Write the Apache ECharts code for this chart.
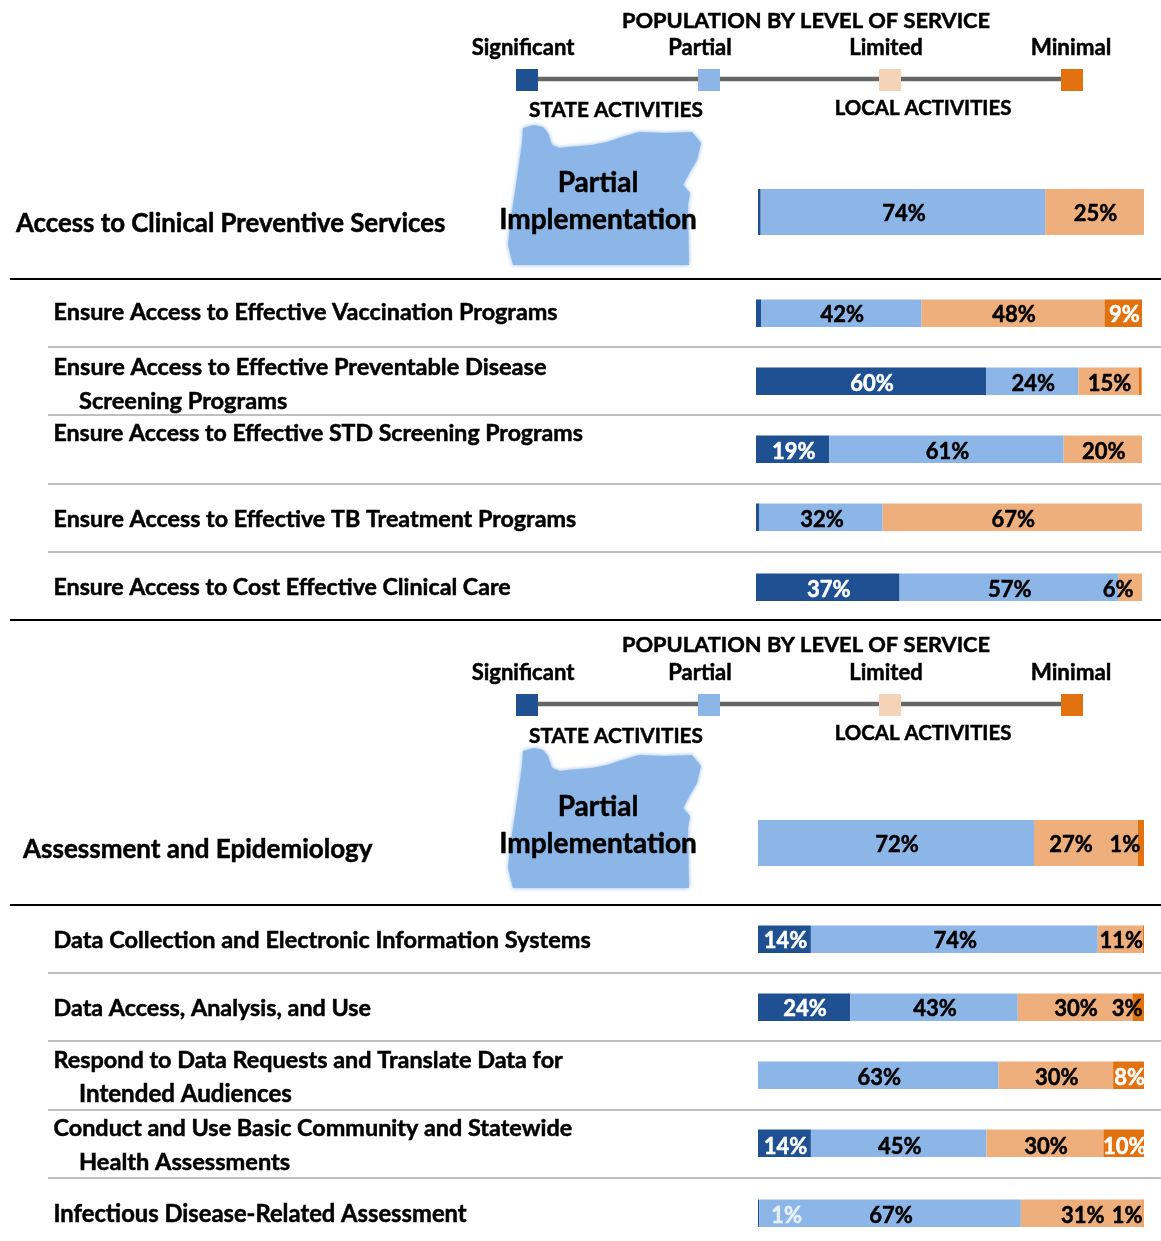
<!DOCTYPE html>
<html>
<head>
<meta charset="utf-8">
<title>Population by level of service</title>
<script src="https://cdn.jsdelivr.net/npm/echarts@6/dist/echarts.min.js"></script>
<style>
    html, body { margin: 0; padding: 0; background: #fff; }
    #chart { width: 1161px; height: 1241px; }
</style>
</head>
<body>
<div id="chart"></div>
<script>
    // row 0 and 6 are the two section summaries, the others the sub items
    const rowNames = [
        ['Access to Clinical Preventive Services'],
        ['Ensure Access to Effective Vaccination Programs'],
        ['Ensure Access to Effective Preventable Disease', 'Screening Programs'],
        ['Ensure Access to Effective STD Screening Programs'],
        ['Ensure Access to Effective TB Treatment Programs'],
        ['Ensure Access to Cost Effective Clinical Care'],
        ['Assessment and Epidemiology'],
        ['Data Collection and Electronic Information Systems'],
        ['Data Access, Analysis, and Use'],
        ['Respond to Data Requests and Translate Data for', 'Intended Audiences'],
        ['Conduct and Use Basic Community and Statewide', 'Health Assessments'],
        ['Infectious Disease-Related Assessment']
    ]
    const levels = ['Significant', 'Partial', 'Limited', 'Minimal']

    // segment widths (percent of population)
    const significant = [0.7, 1.3, 59.6, 19.0, 0.9, 37.2, 0, 13.7, 23.9, 0, 13.7, 0.3]
    const partial = [73.7, 41.6, 23.9, 60.7, 31.9, 56.6, 71.5, 74.3, 43.4, 62.3, 45.5, 67.8]
    const limited = [25.6, 47.4, 15.7, 20.3, 67.2, 6.2, 26.9, 11.7, 29.7, 29.7, 30.3, 31.5]
    const minimal = [0, 9.7, 0.7, 0, 0, 0, 1.6, 0.3, 3.0, 8.0, 10.5, 0.3]

    // printed labels
    const significantLabels = ['', '', '60%', '19%', '', '37%', '', '14%', '24%', '', '14%', '1%']
    const partialLabels = ['74%', '42%', '24%', '61%', '32%', '57%', '72%', '74%', '43%', '63%', '45%', '67%']
    const limitedLabels = ['25%', '48%', '15%', '20%', '67%', '6%', '27%', '11%', '30%', '30%', '30%', '31%']
    const minimalLabels = ['', '9%', '', '', '', '', '1%', '', '3%', '8%', '10%', '1%']

    // layout, kept away from the data
    const barTop = [189, 299.5, 367.5, 435.5, 503.5, 573.5, 820, 925.5, 993.5, 1061.5, 1129.5, 1199.5]
    const barLeft = [758, 756, 756, 756, 756, 756, 758, 758, 758, 758, 758, 758]
    const nameTop = [224, 312, 367, 434, 519, 588, 850, 940, 1008, 1060, 1128, 1214]
    const nameSize = [25.8, 23.4, 23.55, 23.14, 23.3, 23.2, 26, 23.5, 23.35, 23.4, 23.4, 23.75]
    const secondLineSize = { 2: 23.6, 9: 24.1, 10: 23.6 }
    const labelDrop = [2, 2, 3, 3, 3, 3, 2, 2, 2, 3, 4, 3]
    const labelShift = {
        2: { 0: 1, 1: 1, 2: 1 },
        5: { 2: -12 },
        6: { 2: -15, 3: -16 },
        8: { 3: -11 },
        11: { 0: 28, 3: -16 }
    }
    const whiteLabels = { 3: [1, 9, 10] }

    const colors = ['#1F5091', '#8DB6E8', '#EFAF7C', '#E2710F']
    const fontFamily = 'Lato, sans-serif'
    const seriesValues = [significant, partial, limited, minimal]
    const seriesLabels = [significantLabels, partialLabels, limitedLabels, minimalLabels]

    const chart = echarts.init(document.getElementById('chart'))

    const grid = []
    const xAxis = []
    const yAxis = []
    const series = []
    rowNames.forEach((name, row) => {
        const isSummary = row === 0 || row === 6
        grid.push({
            left: barLeft[row],
            top: barTop[row],
            width: 386,
            height: isSummary ? 46 : 27.5
        })
        xAxis.push({ gridIndex: row, type: 'value', min: 0, max: 100, show: false })
        yAxis.push({ gridIndex: row, type: 'category', data: [name[0]], show: false })
        levels.forEach((level, s) => {
            const white = s === 0 || (whiteLabels[s] || []).includes(row)
            const labelColor = white ? (row === 11 ? '#E8F0FA' : '#fff') : '#000'
            series.push({
                type: 'bar',
                name: level,
                stack: 'row' + row,
                xAxisIndex: row,
                yAxisIndex: row,
                barWidth: '100%',
                silent: true,
                itemStyle: { color: colors[s] },
                label: {
                    show: seriesLabels[s][row] !== '',
                    position: 'inside',
                    formatter: seriesLabels[s][row],
                    offset: [((labelShift[row] || {})[s] ?? 1), labelDrop[row]],
                    color: labelColor,
                    textBorderColor: labelColor,
                    textBorderWidth: 0.5,
                    fontFamily: fontFamily,
                    fontWeight: 'bold',
                    fontSize: 22
                },
                data: [seriesValues[s][row]]
            })
        })
    })

    function txt(text, x, y, size, align) {
        return {
            type: 'text',
            z: 20,
            x: x,
            y: y,
            style: {
                text: text,
                fill: '#000',
                stroke: '#000',
                lineWidth: 0.5,
                font: 'bold ' + size + 'px ' + fontFamily,
                textAlign: align || 'left',
                textVerticalAlign: 'middle'
            }
        }
    }
    function rule(x1, y, color, width) {
        return {
            type: 'line',
            z: 1,
            shape: { x1: x1, y1: y, x2: 1161, y2: y },
            style: { stroke: color, lineWidth: width }
        }
    }

    // outline of the state, y counted from the top of the first header block
    const stateOutline = [
        [523, 128], [534, 125], [543, 127], [548, 133], [552, 145], [560, 148], [567, 147], [580, 146], [592, 145],
        [607, 142], [622, 137], [639, 132], [665, 133], [692, 132], [701, 143], [697, 160], [690, 172], [683, 185],
        [690, 193], [688, 205], [689, 265], [513, 265], [508, 245], [510, 225], [516, 185], [522, 143]
    ]
    const headerOffsets = [0, 625]
    const scaleX = [527, 709, 890, 1072]
    const scaleColors = ['#1F5091', '#8DB6E8', '#F5D3B9', '#E2710F']
    const scaleLabelX = [523, 700, 886, 1071]
    const scaleLabelSize = [22, 22, 22, 22.4]

    const elements = []
    headerOffsets.forEach(dy => {
        elements.push(txt('POPULATION BY LEVEL OF SERVICE', 806, 21 + dy - (dy ? 1 : 0), 21.8, 'center'))
        levels.forEach((level, i) => {
            elements.push(txt(level, scaleLabelX[i], 48 + dy, scaleLabelSize[i], 'center'))
        })
        elements.push({
            type: 'line',
            z: 2,
            shape: { x1: scaleX[0], y1: 79 + dy, x2: scaleX[3], y2: 79 + dy },
            style: { stroke: '#666', lineWidth: 4.5 }
        })
        scaleX.forEach((x, i) => {
            elements.push({
                type: 'rect',
                z: 3,
                shape: { x: x - 11, y: 69 + dy, width: 22, height: 22 },
                style: { fill: scaleColors[i] }
            })
        })
        elements.push(txt('STATE ACTIVITIES', 616, 110 + dy + (dy ? 1 : 0), 20.8, 'center'))
        elements.push(txt('LOCAL ACTIVITIES', 923, 108 + dy, 20.4, 'center'))
        elements.push({
            type: 'polygon',
            z: 2,
            shape: { points: stateOutline.map(p => [p[0], p[1] + dy - (dy ? 2 : 0)]) },
            style: { fill: '#8DB6E8', shadowBlur: 4, shadowColor: '#8DB6E8' }
        })
        elements.push(txt('Partial', 598, 183 + dy - (dy ? 1 : 0), 28, 'center'))
        elements.push(txt('Implementation', 598, 220 + dy - (dy ? 1 : 0), 28, 'center'))
    })

    rowNames.forEach((name, row) => {
        if (row === 0) elements.push(txt(name[0], 16, nameTop[row], nameSize[row]))
        else if (row === 6) elements.push(txt(name[0], 23, nameTop[row], nameSize[row]))
        else {
            elements.push(txt(name[0], 53.5, nameTop[row], nameSize[row]))
            if (name[1]) elements.push(txt(name[1], 79, nameTop[row] + 34, secondLineSize[row]))
        }
    })

    ;[279, 620, 905].forEach(y => elements.push(rule(10, y, '#000', 2)))
    ;[347, 415, 484, 552, 973, 1041, 1110, 1178].forEach(y => elements.push(rule(48, y, '#BFBFBF', 2)))

    chart.setOption({
        animation: false,
        backgroundColor: '#fff',
        grid: grid,
        xAxis: xAxis,
        yAxis: yAxis,
        series: series,
        graphic: { elements: elements }
    })
</script>
</body>
</html>
